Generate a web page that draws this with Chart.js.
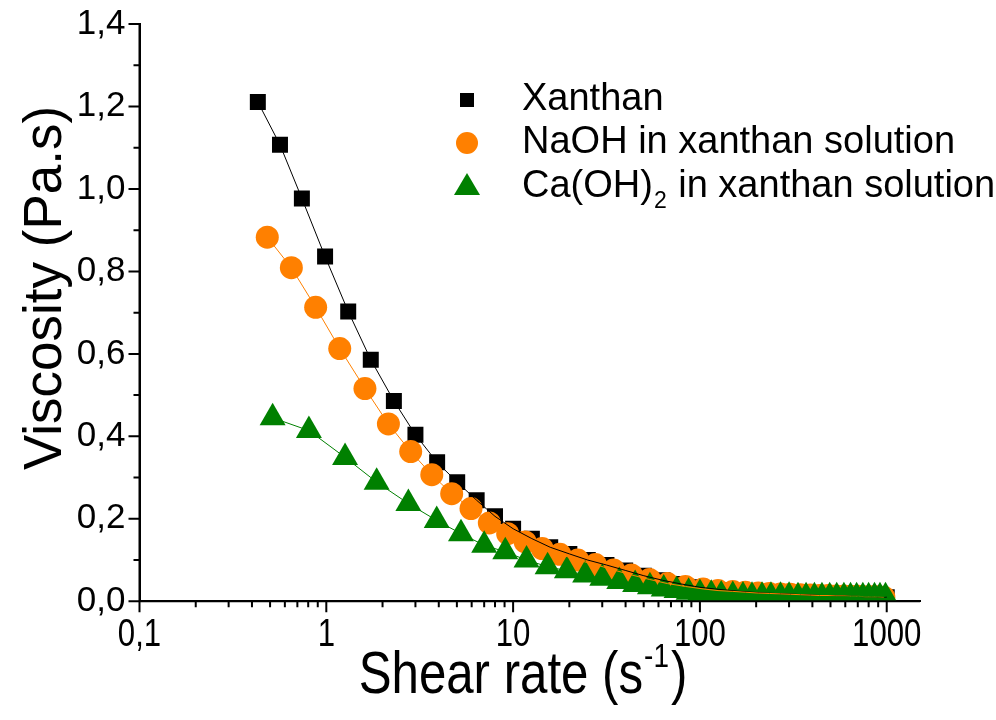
<!DOCTYPE html>
<html>
<head>
<meta charset="utf-8">
<script src="https://cdn.jsdelivr.net/npm/chart.js@4.4.0/dist/chart.umd.min.js"></script>
<style>
  body { margin: 0; background: #fff; }
  canvas { display: block; }
</style>
</head>
<body>
<canvas id="viscosity-chart" width="996" height="720"></canvas>
<script>
// shear rate (1/s) and viscosity (Pa.s)
const xanthanRate = [0.43, 0.565, 0.74, 0.985, 1.31, 1.73, 2.30, 3.0, 3.92, 5.02, 6.38, 8.0, 10, 12.6, 15.8, 20, 25.1, 31.6, 39.8, 50.1, 63.1, 79.4, 100, 120, 140, 165, 190, 220, 250, 285, 320, 360, 400, 445, 490, 540, 590, 640, 695, 750, 810, 870, 935, 1000]
const xanthanVisc = [1.211, 1.107, 0.977, 0.836, 0.703, 0.586, 0.486, 0.404, 0.337, 0.289, 0.245, 0.206, 0.176, 0.152, 0.131, 0.115, 0.100, 0.088, 0.075, 0.062, 0.051, 0.042, 0.034, 0.030, 0.027, 0.024, 0.022, 0.020, 0.019, 0.018, 0.017, 0.016, 0.015, 0.014, 0.014, 0.013, 0.013, 0.012, 0.012, 0.011, 0.011, 0.011, 0.010, 0.010]

const naohRate = [0.483, 0.65, 0.877, 1.18, 1.61, 2.15, 2.83, 3.67, 4.69, 5.95, 7.46, 9.35, 11.6, 14.3, 17.8, 22.2, 27.6, 34.5, 43, 53.7, 67, 83.6, 104, 125, 150, 175, 205, 235, 270, 305, 345, 390, 435, 485, 535, 590, 645, 705, 765, 830, 895, 965]
const naohVisc = [0.883, 0.809, 0.713, 0.613, 0.516, 0.430, 0.363, 0.307, 0.261, 0.225, 0.190, 0.164, 0.144, 0.128, 0.114, 0.100, 0.089, 0.076, 0.064, 0.053, 0.043, 0.036, 0.030, 0.026, 0.024, 0.022, 0.020, 0.019, 0.018, 0.017, 0.016, 0.015, 0.014, 0.014, 0.013, 0.013, 0.012, 0.012, 0.011, 0.011, 0.011, 0.010]

const caRate = [0.516, 0.807, 1.26, 1.86, 2.75, 3.90, 5.26, 7.0, 9.08, 11.8, 15.3, 19.4, 24.3, 30, 37, 45, 54, 64, 75, 87, 100, 115, 130, 150, 170, 190, 215, 240, 270, 300, 335, 370, 410, 450, 495, 540, 590, 640, 690, 745, 800, 860, 920, 985]
const caVisc = [0.445, 0.414, 0.349, 0.289, 0.237, 0.196, 0.164, 0.136, 0.120, 0.100, 0.084, 0.074, 0.064, 0.056, 0.048, 0.041, 0.035, 0.030, 0.026, 0.022, 0.019, 0.017, 0.015, 0.014, 0.013, 0.012, 0.012, 0.012, 0.012, 0.012, 0.011, 0.011, 0.011, 0.011, 0.011, 0.011, 0.011, 0.011, 0.011, 0.011, 0.011, 0.011, 0.011, 0.011]

const seriesNames = ['Xanthan', 'NaOH in xanthan solution', 'Ca(OH)_2 in xanthan solution']
const seriesColors = ['#000000', '#ff8000', '#008000']
const seriesStyles = ['rect', 'circle', 'triangle']
const seriesRadius = [11.3, 11.5, 15]

const xMajorTicks = [0.1, 1, 10, 100, 1000]
const yMajorTicks = [0, 0.2, 0.4, 0.6, 0.8, 1.0, 1.2, 1.4]
const yMinorTicks = [0.1, 0.3, 0.5, 0.7, 0.9, 1.1, 1.3]

const regular = '"Liberation Sans", Arial, sans-serif'
const squeeze = 0.82 // the x axis text is a narrow face

function toPoints(xs, ys) {
  return xs.map((x, i) => ({ x: x, y: ys[i] }))
}

function comma(v) {
  return v.toFixed(1).replace('.', ',')
}

// minor ticks 2..9 in each decade
const xMinorTicks = []
xMajorTicks.forEach((d) => {
  for (let k = 2; k <= 9; k++) {
    if (d * k < 1500) xMinorTicks.push(d * k)
  }
})

// narrow text: draw with a horizontal squeeze
function narrowText(ctx, text, x, y, size, align) {
  ctx.save()
  ctx.font = size + 'px ' + regular
  const w = ctx.measureText(text).width * squeeze
  let left = x
  if (align === 'center') left = x - w / 2
  ctx.translate(left, y)
  ctx.scale(squeeze, 1)
  ctx.textAlign = 'left'
  ctx.fillText(text, 0, 0)
  ctx.restore()
  return w
}

function narrowWidth(ctx, text, size) {
  ctx.save()
  ctx.font = size + 'px ' + regular
  const w = ctx.measureText(text).width * squeeze
  ctx.restore()
  return w
}

// draws the outward tick marks, x labels, axis titles and the legend
const decorations = {
  id: 'decorations',
  afterDraw(chart) {
    const { ctx, chartArea } = chart
    const x = chart.scales.x
    const y = chart.scales.y
    ctx.save()
    ctx.strokeStyle = '#000'
    ctx.lineWidth = 2
    ctx.beginPath()
    // axis lines on top of the markers
    ctx.moveTo(chartArea.left, chartArea.top); ctx.lineTo(chartArea.left, chartArea.bottom)
    ctx.lineTo(chartArea.right, chartArea.bottom)
    xMajorTicks.forEach((v) => {
      const px = x.getPixelForValue(v)
      ctx.moveTo(px, chartArea.bottom); ctx.lineTo(px, chartArea.bottom + 11)
    })
    xMinorTicks.forEach((v) => {
      const px = x.getPixelForValue(v)
      ctx.moveTo(px, chartArea.bottom); ctx.lineTo(px, chartArea.bottom + 6)
    })
    yMajorTicks.forEach((v) => {
      const py = y.getPixelForValue(v)
      ctx.moveTo(chartArea.left, py); ctx.lineTo(chartArea.left - 11, py)
    })
    yMinorTicks.forEach((v) => {
      const py = y.getPixelForValue(v)
      ctx.moveTo(chartArea.left, py); ctx.lineTo(chartArea.left - 6, py)
    })
    ctx.stroke()

    ctx.fillStyle = '#000'
    ctx.textBaseline = 'alphabetic'
    // x tick labels
    xMajorTicks.forEach((v) => {
      const label = v < 1 ? comma(v) : String(v)
      narrowText(ctx, label, x.getPixelForValue(v), 646, 38, 'center')
    })

    // y title
    ctx.save()
    ctx.translate(61, 288)
    ctx.rotate(-Math.PI / 2)
    ctx.font = '53px ' + regular
    ctx.textAlign = 'center'
    ctx.fillText('Viscosity (Pa.s)', 0, 0)
    ctx.restore()

    // x title with superscript
    const w1 = narrowWidth(ctx, 'Shear rate (s', 60)
    const w2 = narrowWidth(ctx, '-1', 34)
    const w3 = narrowWidth(ctx, ')', 60)
    const tx = 523 - (w1 + w2 + w3 + 3) / 2
    const base = 693
    narrowText(ctx, 'Shear rate (s', tx, base, 60)
    narrowText(ctx, '-1', tx + w1 + 1, base - 26, 34)
    narrowText(ctx, ')', tx + w1 + w2 + 3, base, 60)

    // legend
    const lx = 467
    const ly = [100, 143, 187]
    ctx.textBaseline = 'middle'
    ctx.textAlign = 'left'
    seriesNames.forEach((name, i) => {
      ctx.fillStyle = seriesColors[i]
      ctx.beginPath()
      if (i === 0) ctx.rect(lx - 7, ly[i] - 7, 14, 14)
      if (i === 1) ctx.arc(lx, ly[i], 11, 0, Math.PI * 2)
      if (i === 2) { ctx.moveTo(lx, ly[i] - 14); ctx.lineTo(lx + 13, ly[i] + 8); ctx.lineTo(lx - 13, ly[i] + 8); ctx.closePath() }
      ctx.fill()
      ctx.fillStyle = '#000'
      ctx.font = '38px ' + regular
      const parts = name.split('_')
      let cx = 522
      ctx.fillText(parts[0], cx, ly[i])
      if (parts.length > 1) {
        cx += ctx.measureText(parts[0]).width
        ctx.font = '23px ' + regular
        ctx.fillText(parts[1][0], cx + 1, ly[i] + 15)
        cx += ctx.measureText(parts[1][0]).width + 2
        ctx.font = '38px ' + regular
        ctx.fillText(parts[1].slice(1), cx, ly[i])
      }
    })
    ctx.restore()
  }
}

const markerClip = { left: 30, top: 30, right: 30, bottom: 0 }
const allPoints = [
  toPoints(xanthanRate, xanthanVisc),
  toPoints(naohRate, naohVisc),
  toPoints(caRate, caVisc)
]

// markers first (xanthan at the bottom), then the thin lines over every marker
const markerSets = allPoints.map((pts, i) => ({
  label: seriesNames[i],
  data: pts,
  showLine: false,
  backgroundColor: seriesColors[i],
  pointStyle: seriesStyles[i],
  pointRadius: seriesRadius[i],
  pointBorderWidth: 0,
  clip: markerClip,
  order: 10 - i
}))
const lineSets = allPoints.map((pts, i) => ({
  label: seriesNames[i] + ' line',
  data: pts,
  showLine: true,
  borderColor: seriesColors[i],
  borderWidth: 1,
  pointRadius: 0,
  order: 3 - i
}))

const ctx = document.getElementById('viscosity-chart').getContext('2d')
const chart = new Chart(ctx, {
  type: 'scatter',
  data: { datasets: markerSets.concat(lineSets) },
  options: {
    responsive: false,
    animation: false,
    layout: { padding: { top: 21.7, right: 76, left: 0, bottom: 0 } },
    plugins: {
      legend: { display: false },
      tooltip: { enabled: false }
    },
    scales: {
      x: {
        type: 'logarithmic',
        min: 0.1,
        max: 1507,
        afterBuildTicks: (scale) => { scale.ticks = xMajorTicks.map((v) => ({ value: v })) },
        afterFit: (scale) => { scale.height = 118.7 },
        grid: { display: false, tickLength: 11 },
        border: { display: true, color: '#000', width: 2 },
        ticks: { display: false }
      },
      y: {
        min: 0,
        max: 1.4,
        afterBuildTicks: (scale) => { scale.ticks = yMajorTicks.map((v) => ({ value: v })) },
        afterFit: (scale) => { scale.width = 139.5 },
        grid: { display: false, tickLength: 11 },
        border: { display: true, color: '#000', width: 2 },
        ticks: {
          padding: 3,
          color: '#000',
          font: { family: regular, size: 35 },
          callback: (v) => comma(v)
        }
      }
    }
  },
  plugins: [decorations]
})
</script>
</body>
</html>
